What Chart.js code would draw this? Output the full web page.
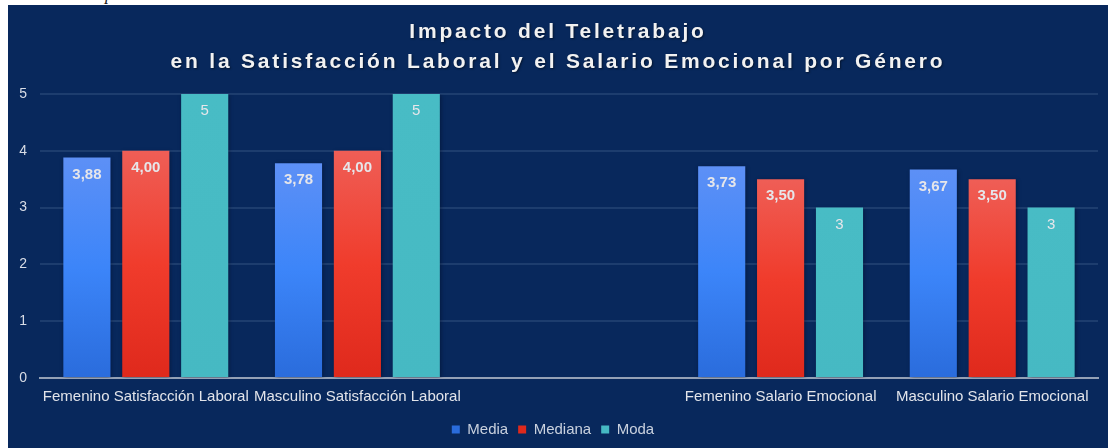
<!DOCTYPE html>
<html>
<head>
<meta charset="utf-8">
<script src="https://cdn.jsdelivr.net/npm/chart.js@4.4.1/dist/chart.umd.min.js"></script>
<style>
  body { margin: 0; background: #fff; width: 1108px; height: 448px; overflow: hidden; position: relative; }
  #doc { position: absolute; left: 105px; top: -15px; font: italic 17px "Liberation Serif", serif; color: #111; }
  #panel { position: absolute; left: 8px; top: 5px; width: 1100px; height: 443px; background: #08285c; }
  #title { position: absolute; left: 0; top: 11px; width: 100%; text-align: center;
           font: bold 21px "Liberation Sans", Arial, sans-serif; line-height: 30px; letter-spacing: 2.8px;
           color: #f2f2f2; text-shadow: 1px 1px 2px rgba(0,0,0,0.5); }
  #wrap { position: absolute; left: 0; top: 0; width: 1100px; height: 443px; }
</style>
</head>
<body>
<div id="doc">p</div>
<div id="panel">
  <div id="wrap"><canvas id="myChart"></canvas></div>
  <div id="title">Impacto del Teletrabajo<br>en la Satisfacción Laboral y el Salario Emocional por Género</div>
</div>
<script>
'use strict';

const categories = ['Femenino Satisfacción Laboral', 'Masculino Satisfacción Laboral', '',
  'Femenino Salario Emocional', 'Masculino Salario Emocional'];
const seriesNames = ['Media', 'Mediana', 'Moda'];
const media = [3.88, 3.78, null, 3.73, 3.67];
const mediana = [4.00, 4.00, null, 3.50, 3.50];
const moda = [5, 5, null, 3, 3];
const decimals = [2, 2, 0];
const yTicks = [0, 1, 2, 3, 4, 5];

// top / bottom colours for each bar
const topColors = ['#5d90f6', '#ef5e56', '#48bcc5'];
const midColors = ['#3c85f9', '#f03c2c', '#47bbc4'];
const bottomColors = ['#2a6cdc', '#df291c', '#46b9c3'];

function barGradient(i) {
  return function (context) {
    const chart = context.chart;
    const area = chart.chartArea;
    if (!area || context.raw == null) return midColors[i];
    const y = chart.scales.y;
    const top = y.getPixelForValue(context.raw);
    const bottom = y.getPixelForValue(0);
    const g = chart.ctx.createLinearGradient(0, top, 0, bottom);
    g.addColorStop(0, topColors[i]);
    g.addColorStop(0.5, midColors[i]);
    g.addColorStop(1, bottomColors[i]);
    return g;
  };
}

const barLabels = {
  id: 'barLabels',
  beforeDatasetsDraw(chart) {
    const ctx = chart.ctx;
    ctx.save();
    ctx.shadowColor = 'rgba(0, 8, 30, 0.45)';
    ctx.shadowBlur = 4;
    ctx.shadowOffsetX = 1;
    ctx.shadowOffsetY = 1;
  },
  afterDatasetsDraw(chart) {
    const ctx = chart.ctx;
    ctx.restore();
    ctx.save();
    ctx.textAlign = 'center';
    ctx.textBaseline = 'middle';
    ctx.fillStyle = '#e6e6ea';
    chart.data.datasets.forEach(function (ds, i) {
      const meta = chart.getDatasetMeta(i);
      ctx.font = (i < 2 ? 'bold ' : '') + '15px "Liberation Sans", Arial, sans-serif';
      meta.data.forEach(function (bar, j) {
        const v = ds.data[j];
        if (v == null) return;
        const txt = v.toFixed(decimals[i]).replace('.', ',');
        ctx.fillText(txt, bar.x, bar.y + 17);
      });
    });
    ctx.restore();
  }
};

const ctx = document.getElementById('myChart').getContext('2d');
const myChart = new Chart(ctx, {
  type: 'bar',
  data: {
    labels: categories,
    datasets: [media, mediana, moda].map(function (vals, i) {
      return {
        label: seriesNames[i],
        data: vals,
        backgroundColor: barGradient(i),
        borderWidth: 0,
        barPercentage: 0.8,
        categoryPercentage: 0.835
      };
    })
  },
  options: {
    responsive: true,
    maintainAspectRatio: false,
    animation: false,
    layout: { padding: { top: 89, right: 10, left: 0, bottom: 1 } },
    plugins: {
      title: { display: false },
      tooltip: { enabled: false },
      legend: {
        position: 'bottom',
        labels: {
          boxWidth: 8,
          boxHeight: 8,
          padding: 10,
          color: '#c9d1de',
          font: { family: '"Liberation Sans", Arial, sans-serif', size: 15 }
        }
      }
    },
    scales: {
      x: {
        grid: { display: false, drawTicks: false },
        border: { display: true, color: '#94a1b6', width: 2 },
        ticks: {
          color: '#e2e4ea',
          autoSkip: false,
          maxRotation: 0,
          padding: 10,
          font: { family: '"Liberation Sans", Arial, sans-serif', size: 15 }
        },
        afterFit(scale) { scale.height = 34; }
      },
      y: {
        min: 0,
        max: 5,
        afterBuildTicks(scale) { scale.ticks = yTicks.map(v => ({ value: v })); },
        grid: {
          drawTicks: false,
          color: ctx => ctx.tick && ctx.tick.value === 0 ? 'rgba(0,0,0,0)' : '#1d3d6e',
          lineWidth: 2
        },
        border: { display: false },
        ticks: {
          color: '#d9dde6',
          padding: 13,
          font: { family: '"Liberation Sans", Arial, sans-serif', size: 14 }
        },
        afterFit(scale) { scale.width = 32; }
      }
    }
  },
  plugins: [barLabels]
});
</script>
</body>
</html>
